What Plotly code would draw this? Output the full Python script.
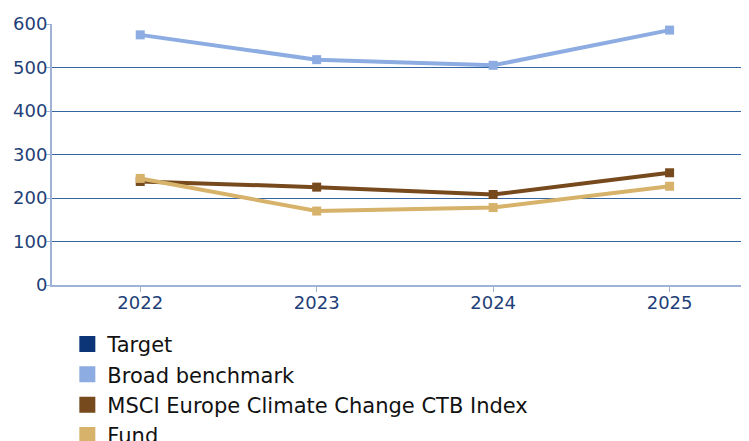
import plotly.graph_objects as go

years = ["2022", "2023", "2024", "2025"]
target = [None, None, None, None]
broad_benchmark = [575, 518, 505, 586]
msci_ctb = [238, 225, 208, 258]
fund = [245, 170, 178, 227]

names = ["Target", "Broad benchmark", "MSCI Europe Climate Change CTB Index", "Fund"]
colors = ["#0b3577", "#8cace2", "#774a1e", "#d6b26a"]
series = [target, broad_benchmark, msci_ctb, fund]

fig = go.Figure()
for name, col, vals in zip(names, colors, series):
    fig.add_trace(go.Scatter(
        x=years, y=vals, mode="lines+markers", name=name,
        line=dict(color=col, width=4),
        marker=dict(symbol="square", size=9, color=col),
        showlegend=False,
    ))
for name, col in zip(names, colors):
    fig.add_trace(go.Scatter(
        x=[None], y=[None], mode="markers", name=name,
        marker=dict(symbol="square", size=16, color=col),
        showlegend=True,
    ))

# page body has an 8px margin: figure sized so it fits the window exactly
fig.update_layout(
    width=741, height=433,
    margin=dict(l=44, r=0, t=16, b=156, autoexpand=False),
    paper_bgcolor="white", plot_bgcolor="white",
    font=dict(family="DejaVu Sans", color="#1f3f78", size=17),
    xaxis=dict(
        type="category", range=[-0.5, 3.45], automargin=False,
        showgrid=False, showline=True, linecolor="#9fb3d6", linewidth=2,
        ticks="outside", ticklen=5, tickcolor="#9fb3d6",
        ticklabelstandoff=-5,
        tickfont=dict(family="DejaVu Sans", size=18, color="#1f3f78"),
    ),
    yaxis=dict(
        range=[0, 600], dtick=100, automargin=False,
        showgrid=True, gridcolor="#3565a0", gridwidth=1,
        showline=True, linecolor="#9fb3d6", linewidth=2,
        ticks="outside", ticklen=5, tickcolor="#9fb3d6",
        ticklabelstandoff=-6,
        zeroline=False,
        tickfont=dict(family="DejaVu Sans", size=18, color="#1f3f78"),
    ),
    legend=dict(
        orientation="v", x=0.022, xanchor="left", y=-0.149, yanchor="top",
        font=dict(family="DejaVu Sans", size=21, color="#111111"),
        tracegroupgap=0, itemwidth=30,
        bgcolor="rgba(0,0,0,0)",
    ),
)

fig.write_html("out.html")
